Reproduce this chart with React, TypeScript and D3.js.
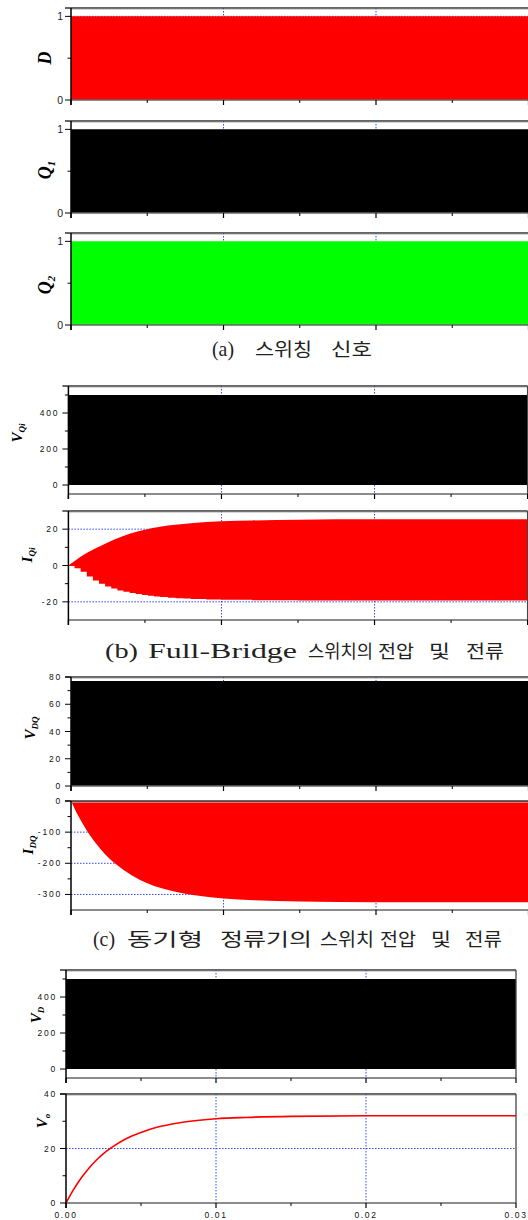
import React from 'react';
import * as d3 from 'd3';

// ---------- data ----------
const timeExtent: [number, number] = [0, 0.03];
const xMajorTicks = [0, 0.01, 0.02, 0.03];
const xMinorTicks = [0.005, 0.015, 0.025];
const xTickLabels = ['0.00', '0.01', '0.02', '0.03'];
const xGridLines = [0.01, 0.02];

// envelopes of the switching waveforms (on/off pulses at high frequency)
const spanTime = [0, 0.03];
const dHigh = [1, 1];
const q1High = [1, 1];
const q2High = [1, 1];
const vQiHigh = [500, 500];
const vDQHigh = [77, 77];
const vDHigh = [500, 500];
const zeroLevel = [0, 0];

// I_Qi envelopes
const iQiUpperTime = [0, 0.0005, 0.001, 0.0015, 0.002, 0.003, 0.004, 0.005, 0.006, 0.008, 0.010, 0.012, 0.015, 0.020, 0.025, 0.030];
const iQiUpper = [0, 3.0, 5.9, 8.3, 10.3, 14.3, 17.5, 19.7, 21.3, 23.2, 24.3, 24.8, 25.2, 25.4, 25.5, 25.5];
const iQiLowerTime = [0, 0.0004, 0.0008, 0.0012, 0.0016, 0.002, 0.0024, 0.0028, 0.0032, 0.0036, 0.004, 0.0044, 0.0048, 0.0052, 0.0056, 0.006, 0.0065, 0.007, 0.0075, 0.008, 0.009, 0.010, 0.012, 0.015, 0.030];
const iQiLower = [0, -1.5, -3.5, -6.0, -8.2, -10.1, -11.5, -12.7, -13.7, -14.5, -15.2, -15.7, -16.3, -16.7, -17.1, -17.4, -17.7, -18.0, -18.2, -18.4, -18.7, -18.9, -19.1, -19.2, -19.3];

// I_DQ envelope (negative peak)
const iDQTime = [0, 0.0005, 0.001, 0.0015, 0.002, 0.003, 0.004, 0.005, 0.006, 0.008, 0.010, 0.012, 0.015, 0.020, 0.030];
const iDQLow = [0, -50, -92, -128, -158, -205, -239, -264, -281, -302, -313, -319, -323, -325, -325];

// V_o output voltage
const voTime = [0, 0.0005, 0.001, 0.0015, 0.002, 0.0025, 0.003, 0.004, 0.005, 0.006, 0.007, 0.008, 0.010, 0.012, 0.015, 0.020, 0.025, 0.030];
const voValues = [0, 4.9, 9.1, 12.6, 15.6, 18.1, 20.2, 23.6, 25.9, 27.7, 28.9, 29.8, 30.9, 31.4, 31.8, 32.0, 32.0, 32.0];

// ---------- style ----------
const FONT_TICK = "'Liberation Sans', Arial, sans-serif";
const FONT_LABEL = "'Liberation Serif', 'Times New Roman', serif";
const FONT_CAPTION_LATIN = "'Liberation Serif', 'Times New Roman', serif";
const FONT_CAPTION = "'Noto Sans CJK KR', sans-serif";
const GRID = '#3344ff';

type Cfg = {
  id: string;
  left: number; right: number; top: number; bottom: number;
  yDomain: [number, number];
  yMajor: number[]; yMinor: number[];
  tickStyle: 'plain' | 'spaced';
  hGrid: number[];
  rightBorder: boolean;
  xLabels?: boolean;
  label: { main: string; sub: string; cx: number; cy: number; size: number };
};

const panels: Cfg[] = [
  { id: 'D', left: 71, right: 528.5, top: 8, bottom: 100, yDomain: [0, 1.1], yMajor: [0, 1], yMinor: [0.5], tickStyle: 'plain', hGrid: [1], rightBorder: false, label: { main: 'D', sub: '', cx: 45, cy: 58, size: 18 } },
  { id: 'Q1', left: 71, right: 528.5, top: 121, bottom: 213, yDomain: [0, 1.1], yMajor: [0, 1], yMinor: [0.5], tickStyle: 'plain', hGrid: [], rightBorder: false, label: { main: 'Q', sub: '1', cx: 45, cy: 170, size: 18 } },
  { id: 'Q2', left: 71, right: 528.5, top: 233, bottom: 325, yDomain: [0, 1.1], yMajor: [0, 1], yMinor: [0.5], tickStyle: 'plain', hGrid: [], rightBorder: false, label: { main: 'Q', sub: '2', cx: 45, cy: 285, size: 18 } },
  { id: 'VQ', left: 68.4, right: 527.6, top: 386, bottom: 494, yDomain: [-50, 550], yMajor: [0, 200, 400], yMinor: [100, 300, 500], tickStyle: 'spaced', hGrid: [], rightBorder: true, label: { main: 'V', sub: 'Qi', cx: 17, cy: 433, size: 15 } },
  { id: 'IQ', left: 68.4, right: 527.6, top: 511, bottom: 620, yDomain: [-30, 30], yMajor: [-20, 0, 20], yMinor: [-10, 10], tickStyle: 'spaced', hGrid: [-20, 20], rightBorder: true, label: { main: 'I', sub: 'Qi', cx: 27, cy: 555, size: 15 } },
  { id: 'VDQ', left: 71, right: 528.5, top: 677, bottom: 786, yDomain: [0, 80], yMajor: [0, 20, 40, 60, 80], yMinor: [10, 30, 50, 70], tickStyle: 'spaced', hGrid: [20, 40, 60], rightBorder: false, label: { main: 'V', sub: 'DQ', cx: 30, cy: 728, size: 15 } },
  { id: 'IDQ', left: 71, right: 528.5, top: 801, bottom: 910, yDomain: [-350, 0], yMajor: [0, -100, -200, -300], yMinor: [-50, -150, -250], tickStyle: 'spaced', hGrid: [-100, -200, -300], rightBorder: false, label: { main: 'I', sub: 'DQ', cx: 28, cy: 845, size: 15 } },
  { id: 'VD', left: 66, right: 516, top: 970, bottom: 1078, yDomain: [-50, 550], yMajor: [0, 200, 400], yMinor: [100, 300, 500], tickStyle: 'spaced', hGrid: [], rightBorder: true, label: { main: 'V', sub: 'D', cx: 36, cy: 1015, size: 15 } },
  { id: 'VO', left: 66, right: 516, top: 1094, bottom: 1203, yDomain: [0, 40], yMajor: [0, 20, 40], yMinor: [10, 30], tickStyle: 'spaced', hGrid: [20], rightBorder: true, xLabels: true, label: { main: 'V', sub: 'o', cx: 42, cy: 1121, size: 15 } },
];

type Word = { text: string; x0: number; x1: number; latin?: boolean };
const captions: { y: number; words: Word[] }[] = [
  { y: 356, words: [{ text: '(a)', x0: 212, x1: 234, latin: true }, { text: '스위칭', x0: 255, x1: 312 }, { text: '신호', x0: 331, x1: 372 }] },
  { y: 658, words: [{ text: '(b)', x0: 105, x1: 138, latin: true }, { text: 'Full-Bridge', x0: 148, x1: 297, latin: true }, { text: '스위치의', x0: 308, x1: 373 }, { text: '전압', x0: 378, x1: 414 }, { text: '및', x0: 429, x1: 450 }, { text: '전류', x0: 466, x1: 504 }] },
  { y: 946, words: [{ text: '(c)', x0: 93, x1: 115, latin: true }, { text: '동기형', x0: 127, x1: 203 }, { text: '정류기의', x0: 220, x1: 312 }, { text: '스위치', x0: 320, x1: 374 }, { text: '전압', x0: 380, x1: 416 }, { text: '및', x0: 431, x1: 451 }, { text: '전류', x0: 465, x1: 502 }] },
];

function marks(id: string, x: d3.ScaleLinear<number, number>, y: d3.ScaleLinear<number, number>) {
  const band = (hi: number[], lo: number[], t: number[], color: string) => {
    const pts = t.map((tt, i) => ({ t: tt, hi: hi[i], lo: lo[i] }));
    const a = d3.area<{ t: number; hi: number; lo: number }>().x(d => x(d.t)).y0(d => y(d.lo)).y1(d => y(d.hi));
    return <path d={a(pts) || ''} fill={color} />;
  };
  switch (id) {
    case 'D': return band(dHigh, zeroLevel, spanTime, '#ff0000');
    case 'Q1': return band(q1High, zeroLevel, spanTime, '#000000');
    case 'Q2': return band(q2High, zeroLevel, spanTime, '#00ff00');
    case 'VQ': return band(vQiHigh, zeroLevel, spanTime, '#000000');
    case 'VDQ': return band(vDQHigh, zeroLevel, spanTime, '#000000');
    case 'VD': return band(vDHigh, zeroLevel, spanTime, '#000000');
    case 'IQ': {
      const up = iQiUpperTime.map((t, i) => [t, iQiUpper[i]] as [number, number]);
      const lo = iQiLowerTime.map((t, i) => [t, iQiLower[i]] as [number, number]);
      const aUp = d3.area<[number, number]>().x(d => x(d[0])).y0(y(0) + 0.5).y1(d => y(d[1])).curve(d3.curveMonotoneX);
      const aLo = d3.area<[number, number]>().x(d => x(d[0])).y0(d => y(d[1])).y1(y(0) - 0.5).curve(d3.curveStepAfter);
      return <g><path d={aUp(up) || ''} fill="#ff0000" /><path d={aLo(lo) || ''} fill="#ff0000" /></g>;
    }
    case 'IDQ': {
      const pts = iDQTime.map((t, i) => [t, iDQLow[i]] as [number, number]);
      const a = d3.area<[number, number]>().x(d => x(d[0])).y0(d => y(d[1])).y1(y(0)).curve(d3.curveMonotoneX);
      return <path d={a(pts) || ''} fill="#ff0000" />;
    }
    case 'VO': {
      const pts = voTime.map((t, i) => [t, voValues[i]] as [number, number]);
      const l = d3.line<[number, number]>().x(d => x(d[0])).y(d => y(d[1])).curve(d3.curveMonotoneX);
      return <path d={l(pts) || ''} fill="none" stroke="#ff0000" strokeWidth={1.6} />;
    }
  }
  return null;
}

function Panel({ cfg }: { cfg: Cfg }) {
  const x = d3.scaleLinear().domain(timeExtent).range([cfg.left, cfg.right]);
  const y = d3.scaleLinear().domain(cfg.yDomain).range([cfg.bottom, cfg.top]);
  const clipId = 'clip-' + cfg.id;
  const fmt = (v: number) => String(v);
  const L = cfg.label;
  return (
    <g>
      <defs>
        <clipPath id={clipId}>
          <rect x={cfg.left} y={cfg.top} width={cfg.right - cfg.left} height={cfg.bottom - cfg.top} />
        </clipPath>
      </defs>
      <g clipPath={`url(#${clipId})`}>
        {xGridLines.map(v => (
          <line key={'vg' + v} x1={x(v)} x2={x(v)} y1={cfg.top} y2={cfg.bottom} stroke={GRID} strokeWidth={1} strokeDasharray="1.5 1.5" />
        ))}
        {cfg.hGrid.map(v => (
          <line key={'hg' + v} x1={cfg.left} x2={cfg.right} y1={y(v)} y2={y(v)} stroke={GRID} strokeWidth={1} strokeDasharray="1.5 1.5" />
        ))}
        {marks(cfg.id, x, y)}
      </g>
      {/* frame */}
      <line x1={cfg.left - 6} x2={cfg.right} y1={cfg.top} y2={cfg.top} stroke="#333" strokeWidth={1.3} />
      <line x1={cfg.left} x2={cfg.right} y1={cfg.top + 1.3} y2={cfg.top + 1.3} stroke="#bbb" strokeWidth={0.8} />
      <line x1={cfg.left} x2={cfg.right} y1={cfg.bottom} y2={cfg.bottom} stroke="#666" strokeWidth={1.3} />
      {cfg.rightBorder && <line x1={cfg.right} x2={cfg.right} y1={cfg.top} y2={cfg.bottom} stroke="#444" strokeWidth={1.3} />}
      <line x1={cfg.left} x2={cfg.left} y1={cfg.top} y2={cfg.bottom + 5} stroke="#000" strokeWidth={1.5} />
      {/* y ticks */}
      {cfg.yMajor.map(v => (
        <g key={'ym' + v}>
          <line x1={cfg.left - 6} x2={cfg.left} y1={y(v)} y2={y(v)} stroke="#000" strokeWidth={1} />
          {cfg.tickStyle === 'plain' ? (
            <text x={cfg.left - 8} y={y(v) + 3.5} textAnchor="end" fontFamily={FONT_TICK} fontSize={10.5} fill="#222">{fmt(v)}</text>
          ) : (
            <text x={cfg.left - 9} y={y(v) + 3} textAnchor="end" fontFamily={FONT_TICK} fontSize={8.5} letterSpacing={1.8} fill="#111">{fmt(v)}</text>
          )}
        </g>
      ))}
      {cfg.yMinor.map(v => (
        <line key={'yn' + v} x1={cfg.left - 3.5} x2={cfg.left} y1={y(v)} y2={y(v)} stroke="#000" strokeWidth={1} />
      ))}
      {/* x ticks */}
      {xMajorTicks.map((v, i) => (
        <g key={'xm' + v}>
          <line x1={x(v)} x2={x(v)} y1={cfg.bottom} y2={cfg.bottom + 5} stroke="#000" strokeWidth={1.2} />
          {cfg.xLabels && (
            <text x={x(v)} y={cfg.bottom + 15} textAnchor="middle" fontFamily={FONT_TICK} fontSize={8.5} letterSpacing={1.6} fill="#111">{xTickLabels[i]}</text>
          )}
        </g>
      ))}
      {xMinorTicks.map(v => (
        <line key={'xn' + v} x1={x(v)} x2={x(v)} y1={cfg.bottom} y2={cfg.bottom + 3} stroke="#000" strokeWidth={1} />
      ))}
      {/* y label */}
      <text transform={`translate(${L.cx},${L.cy}) rotate(-90)`} textAnchor="middle" fontFamily={FONT_LABEL} fontWeight="bold" fontStyle="italic" fill="#000">
        <tspan fontSize={L.size} dy={L.size * 0.33}>{L.main}</tspan>
        {L.sub && <tspan fontSize={L.size * 0.6} dy={L.size * 0.22}>{L.sub}</tspan>}
      </text>
    </g>
  );
}

export default function App() {
  return (
    <svg width={528} height={1220} style={{ position: 'absolute', left: 0, top: 0, background: '#fff' }}>
      <rect x={0} y={0} width={528} height={1220} fill="#fff" />
      {panels.map(p => <Panel key={p.id} cfg={p} />)}
      {captions.map((c, ci) => (
        <g key={'cap' + ci}>
          {c.words.map((w, wi) => (
            <text key={wi} x={w.x0} y={c.y} fontFamily={w.latin ? FONT_CAPTION_LATIN : FONT_CAPTION} fontSize={w.latin ? 22 : 18} fill="#222" textLength={w.x1 - w.x0} lengthAdjust="spacingAndGlyphs">{w.text}</text>
          ))}
        </g>
      ))}
    </svg>
  );
}
